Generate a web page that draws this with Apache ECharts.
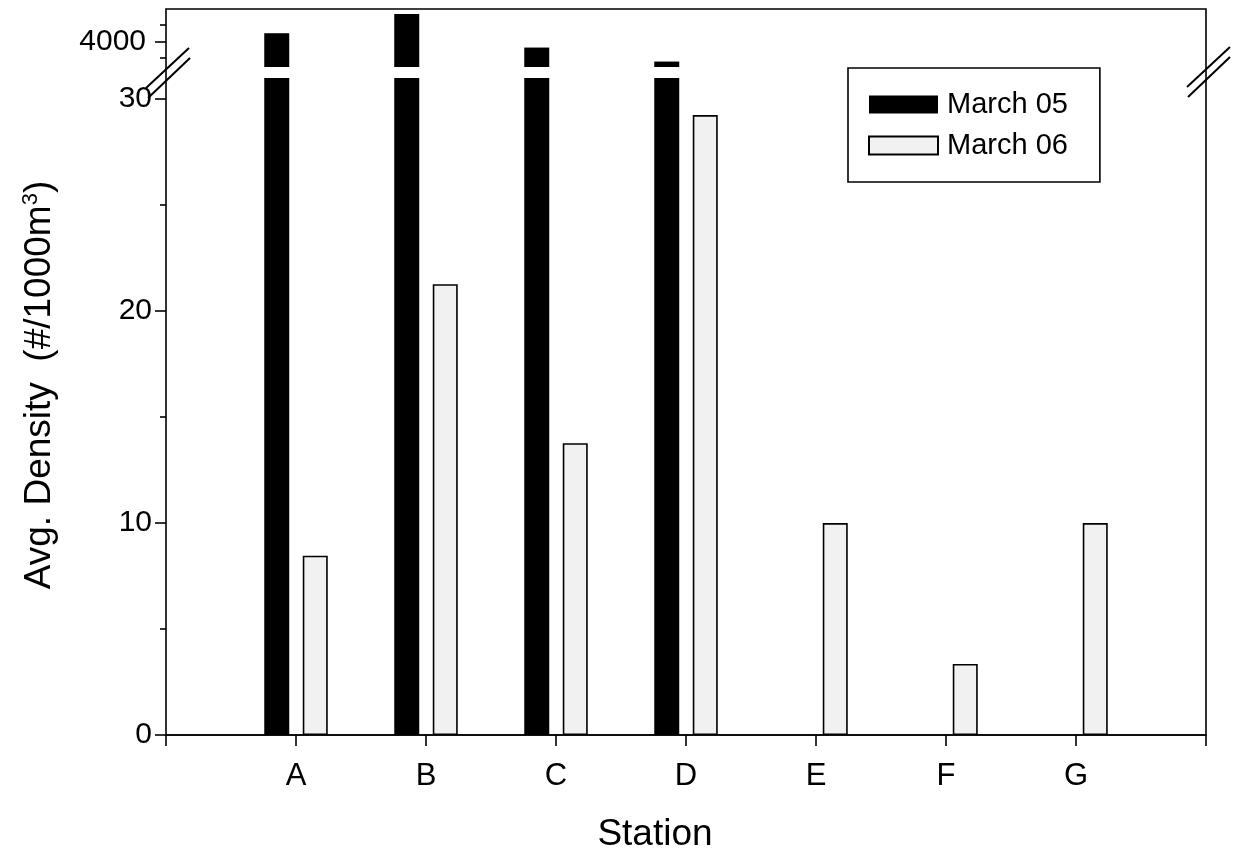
<!DOCTYPE html>
<html>
<head>
<meta charset="utf-8">
<script src="https://cdn.jsdelivr.net/npm/echarts@6/dist/echarts.min.js"></script>
<style>
html,body{margin:0;padding:0;background:#fff;}
#chart{width:1238px;height:857px;}
</style>
</head>
<body>
<div id="chart"></div>
<script>
// ---- data ----
const stations = ['', 'A', 'B', 'C', 'D', 'E', 'F', 'G', ''];
const march05 = ['-', 4255, 4840, 3820, 3395, 0, 0, 0, '-'];
const march06 = ['-', 8.46, 21.27, 13.77, 29.25, 10.0, 3.35, 10.0, '-'];
const lowerTicks = [0, 10, 20, 30];
const lowerMinorTicks = [5, 15, 25];
const upperTicks = [4000];
const upperMinorTicks = [3500, 4500];

const FONT = 'Liberation Sans, Arial, sans-serif';
const chart = echarts.init(document.getElementById('chart'));

const L = 166, R = 32, B = 122;
const upperMin = 3230, upperMax = 4990;

const black = {color: '#000'};
const light = {color: '#f1f1f1', borderColor: '#000', borderWidth: 1.6};
const plain = v => String(v);

const option = {
  backgroundColor: '#fff',
  animation: false,
  grid: [
    {left: L, right: R, top: 78, bottom: B},              // lower segment
    {left: L, right: R, top: 9, height: 58},              // upper segment
    {left: L, right: R, top: 9, bottom: B, show: true, borderColor: '#000', borderWidth: 1.6, backgroundColor: 'transparent'} // frame
  ],
  legend: {
    data: ['March 05', 'March 06'],
    orient: 'vertical',
    left: 848, top: 68,
    padding: [22, 32, 22, 20],
    icon: 'rect',
    itemWidth: 69, itemHeight: 18, itemGap: 12,
    borderColor: '#000', borderWidth: 1.6,
    textStyle: {fontFamily: FONT, fontSize: 29, color: '#000', padding: [0, 0, 0, 4]},
    selectedMode: false
  },
  xAxis: [
    {type: 'category', gridIndex: 0, data: stations, boundaryGap: false,
     axisLine: {lineStyle: {color: '#000', width: 1.6}},
     axisTick: {length: 11, lineStyle: {color: '#000', width: 1.6}},
     axisLabel: {fontFamily: FONT, fontSize: 31, color: '#000', margin: 26},
     splitLine: {show: false}},
    {type: 'category', gridIndex: 1, data: stations, boundaryGap: false, show: false},
    {type: 'category', gridIndex: 2, data: stations, boundaryGap: false, show: false}
  ],
  yAxis: [
    {type: 'value', gridIndex: 0, position: 'left', min: 0, max: 31,
     axisLine: {show: false},
     axisTick: {show: true, length: 11, customValues: lowerTicks, lineStyle: {color: '#000', width: 1.6}},
     axisLabel: {fontFamily: FONT, fontSize: 30, color: '#000', margin: 14, customValues: lowerTicks, formatter: plain},
     splitLine: {show: false}},
    {type: 'value', gridIndex: 0, position: 'left', offset: 0, min: 0, max: 31,
     axisLine: {show: false},
     axisTick: {show: true, length: 6, customValues: lowerMinorTicks, lineStyle: {color: '#000', width: 1.6}},
     axisLabel: {show: false}, splitLine: {show: false}},
    {type: 'value', gridIndex: 1, position: 'left', min: upperMin, max: upperMax,
     axisLine: {show: false},
     axisTick: {show: true, length: 11, customValues: upperTicks, lineStyle: {color: '#000', width: 1.6}},
     axisLabel: {fontFamily: FONT, fontSize: 30, color: '#000', margin: 20, customValues: upperTicks, formatter: plain},
     splitLine: {show: false}},
    {type: 'value', gridIndex: 1, position: 'left', offset: 0, min: upperMin, max: upperMax,
     axisLine: {show: false},
     axisTick: {show: true, length: 6, customValues: upperMinorTicks, lineStyle: {color: '#000', width: 1.6}},
     axisLabel: {show: false}, splitLine: {show: false}},
    {type: 'value', gridIndex: 2, show: false}
  ],
  series: [
    {name: 'March 05', type: 'bar', xAxisIndex: 0, yAxisIndex: 0, data: march05,
     barWidth: 25, barGap: '54%', itemStyle: black, clip: true},
    {name: 'March 06', type: 'bar', xAxisIndex: 0, yAxisIndex: 0, data: march06,
     barWidth: 25, barGap: '54%', itemStyle: light, clip: true},
    {name: 'March 05', type: 'bar', xAxisIndex: 1, yAxisIndex: 2, data: march05,
     barWidth: 25, barGap: '54%', itemStyle: black, clip: true},
    {name: 'March 06', type: 'bar', xAxisIndex: 1, yAxisIndex: 2,
     data: march06.map(v => (v !== '-' && v > upperMin) ? v : '-'),
     barWidth: 25, barGap: '54%', itemStyle: light, clip: true}
  ],
  graphic: [
    // axis break marks
    {type: 'line', shape: {x1: 146, y1: 88, x2: 189, y2: 48}, style: {stroke: '#000', lineWidth: 2}, z: 100},
    {type: 'line', shape: {x1: 148, y1: 98, x2: 190, y2: 58}, style: {stroke: '#000', lineWidth: 2}, z: 100},
    {type: 'line', shape: {x1: 1187, y1: 87, x2: 1230, y2: 47}, style: {stroke: '#000', lineWidth: 2}, z: 100},
    {type: 'line', shape: {x1: 1188, y1: 97, x2: 1230, y2: 57}, style: {stroke: '#000', lineWidth: 2}, z: 100},
    // axis titles
    {type: 'text', x: 655, y: 835, style: {text: 'Station', fontFamily: FONT, fontSize: 37, fill: '#000', textAlign: 'center', textVerticalAlign: 'middle'}},
    {type: 'text', x: 40, y: 385, rotation: Math.PI / 2,
     style: {text: 'Avg. Density  (#/1000m{sup|3})', fontFamily: FONT, fontSize: 37, fill: '#000',
             textAlign: 'center', textVerticalAlign: 'middle',
             rich: {sup: {fontFamily: FONT, fontSize: 22, fill: '#000', padding: [0, 0, 18, 0]}}}}
  ]
};
chart.setOption(option);
</script>
</body>
</html>
